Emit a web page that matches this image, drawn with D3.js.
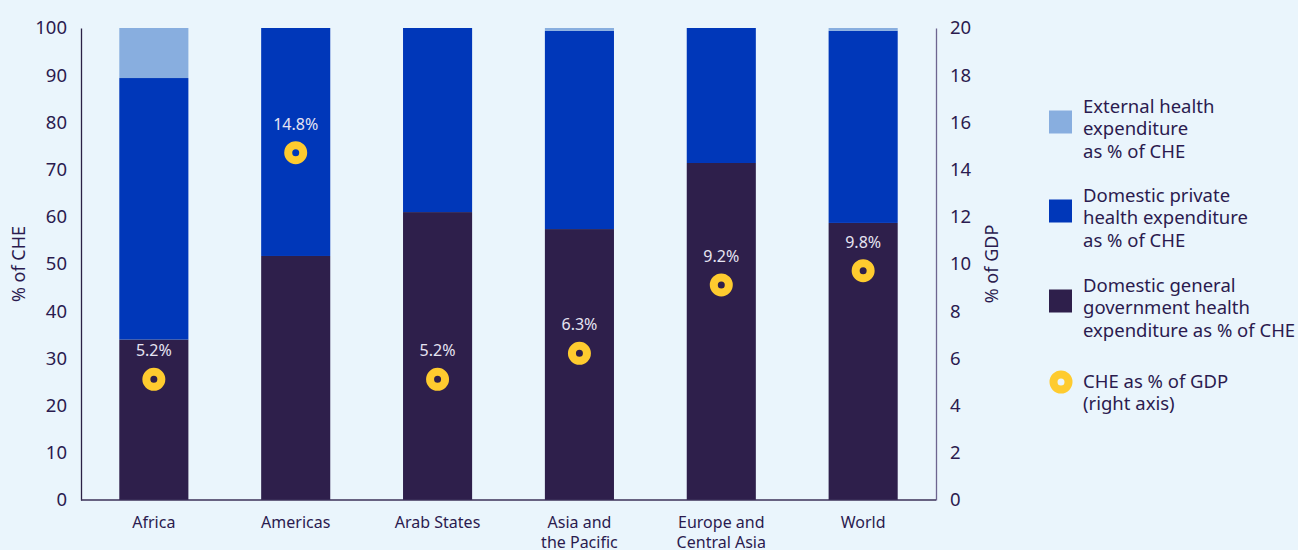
<!DOCTYPE html>
<html>
<head>
<meta charset="utf-8">
<script src="https://cdn.jsdelivr.net/npm/d3@7"></script>
<style>
  html, body { margin: 0; padding: 0; background: #eaf5fc; }
  svg { display: block; font-family: "Noto Sans", sans-serif; }
</style>
</head>
<body>
<svg width="1298" height="550"></svg>
<script>
var regions = ["Africa", "Americas", "Arab States", "Asia and|the Pacific", "Europe and|Central Asia", "World"];
var govShare = [34, 51.7, 61, 57.4, 71.4, 58.7];
var privateShare = [55.4, 48.3, 39, 42, 28.6, 40.7];
var externalShare = [10.6, 0, 0, 0.6, 0, 0.6];
var cheGdp = [5.2, 14.8, 5.2, 6.3, 9.2, 9.8];
var leftTicks = [0, 10, 20, 30, 40, 50, 60, 70, 80, 90, 100];
var rightTicks = [0, 2, 4, 6, 8, 10, 12, 14, 16, 18, 20];

var colors = {gov: "#2e1f4b", priv: "#0037b9", ext: "#88aedf", dot: "#fecb2f", text: "#2b1b4f"};

var svg = d3.select("svg"),
    margin = {top: 28, right: 362, bottom: 50, left: 81},
    width = +svg.attr("width") - margin.left - margin.right,
    height = +svg.attr("height") - margin.top - margin.bottom;

var g = svg.append("g")
    .attr("transform", "translate(" + margin.left + "," + margin.top + ")");

var data = regions.map(function(r, i) {
  return {region: r, gov: govShare[i], priv: privateShare[i], ext: externalShare[i], gdp: cheGdp[i]};
});

var x = d3.scaleBand()
    .domain(regions)
    .range([0, width])
    .paddingInner(0.513)
    .paddingOuter(0.27);

var y = d3.scaleLinear().domain([0, 100]).range([height, 0]);
var y2 = d3.scaleLinear().domain([0, 20]).range([height, 0]);

var stack = d3.stack().keys(["gov", "priv", "ext"]);
var series = stack(data);

g.selectAll("g.layer")
  .data(series)
  .enter().append("g")
    .attr("class", "layer")
    .attr("fill", function(d) { return colors[d.key]; })
  .selectAll("rect")
  .data(function(d) { return d; })
  .enter().append("rect")
    .attr("x", function(d) { return x(d.data.region); })
    .attr("width", x.bandwidth())
    .attr("y", function(d) { return y(d[1]); })
    .attr("height", function(d) { return y(d[0]) - y(d[1]); });

// axes
var yAxis = d3.axisLeft(y).tickValues(leftTicks).tickSize(0).tickPadding(14);
var yAxis2 = d3.axisRight(y2).tickValues(rightTicks).tickSize(0).tickPadding(14);

var gl = g.append("g").call(yAxis);
gl.select(".domain").attr("stroke", "#2b2145").attr("stroke-width", 1.3);
gl.selectAll("text").attr("font-size", 18.5).attr("fill", colors.text).attr("font-family", "Noto Sans");

var gr = g.append("g").attr("transform", "translate(" + width + ",0)").call(yAxis2);
gr.select(".domain").attr("stroke", "#6d6590").attr("stroke-width", 1.3);
gr.selectAll("text").attr("font-size", 18.5).attr("fill", colors.text).attr("font-family", "Noto Sans");

g.append("line")
    .attr("x1", 0).attr("x2", width)
    .attr("y1", height).attr("y2", height)
    .attr("stroke", "#3b3158").attr("stroke-width", 1.3);

// x labels
var xl = g.append("g").attr("transform", "translate(0," + height + ")");
xl.selectAll("text")
  .data(regions)
  .enter().append("text")
    .attr("x", function(d) { return x(d) + x.bandwidth() / 2; })
    .attr("y", 28)
    .attr("text-anchor", "middle")
    .attr("font-size", 16)
    .attr("fill", colors.text)
  .each(function(d) {
    var parts = d.split("|");
    var t = d3.select(this);
    parts.forEach(function(p, i) {
      t.append("tspan").attr("x", x(d) + x.bandwidth() / 2).attr("dy", i ? 20 : 0).text(p);
    });
  });

// axis titles
svg.append("text")
    .attr("transform", "translate(25," + (margin.top + height / 2) + ") rotate(-90)")
    .attr("text-anchor", "middle")
    .attr("font-size", 18)
    .attr("fill", colors.text)
    .text("% of CHE");

svg.append("text")
    .attr("transform", "translate(998," + (margin.top + height / 2) + ") rotate(-90)")
    .attr("text-anchor", "middle")
    .attr("font-size", 18)
    .attr("fill", colors.text)
    .text("% of GDP");

// CHE as % of GDP markers
var marks = g.append("g");
marks.selectAll("circle")
  .data(data)
  .enter().append("circle")
    .attr("cx", function(d) { return x(d.region) + x.bandwidth() / 2; })
    .attr("cy", function(d) { return y2(d.gdp) + 2; })
    .attr("r", 7.5)
    .attr("fill", "none")
    .attr("stroke", colors.dot)
    .attr("stroke-width", 8);

marks.selectAll("text")
  .data(data)
  .enter().append("text")
    .attr("x", function(d) { return x(d.region) + x.bandwidth() / 2; })
    .attr("y", function(d) { return y2(d.gdp) - 21; })
    .attr("text-anchor", "middle")
    .attr("font-size", 16)
    .attr("fill", "#e6e4f2")
    .text(function(d) { return d.gdp.toFixed(1) + "%"; });

// legend
var legendItems = [
  {key: "ext", lines: ["External health", "expenditure", "as % of CHE"], y: 107},
  {key: "priv", lines: ["Domestic private", "health expenditure", "as % of CHE"], y: 196},
  {key: "gov", lines: ["Domestic general", "government health", "expenditure as % of CHE"], y: 286},
  {key: "dot", lines: ["CHE as % of GDP", "(right axis)"], y: 382}
];

var legend = svg.append("g");
legendItems.forEach(function(item) {
  var n = item.lines.length;
  var cy = item.y + (n === 3 ? 15 : 0);
  if (item.key === "dot") {
    legend.append("circle")
        .attr("cx", 1061).attr("cy", cy)
        .attr("r", 7.5).attr("fill", "none")
        .attr("stroke", colors.dot).attr("stroke-width", 8);
  } else {
    legend.append("rect")
        .attr("x", 1049).attr("y", cy - 11.5)
        .attr("width", 23).attr("height", 23)
        .attr("fill", colors[item.key]);
  }
  var t = legend.append("text")
      .attr("x", 1083).attr("y", item.y + 6)
      .attr("font-size", 18.5)
      .attr("fill", colors.text);
  item.lines.forEach(function(l, i) {
    t.append("tspan").attr("x", 1083).attr("dy", i ? 22.3 : 0).text(l);
  });
});
</script>
</body>
</html>
